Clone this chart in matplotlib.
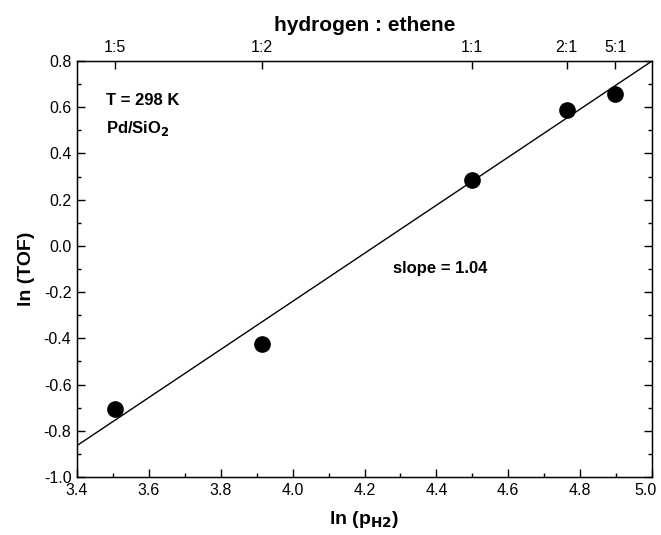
import matplotlib
matplotlib.use("Agg")
import matplotlib.pyplot as plt
import matplotlib.transforms as mtransforms
import numpy as np
from matplotlib.ticker import MultipleLocator, FormatStrFormatter

plt.rcParams['font.family'] = ['Liberation Sans', 'DejaVu Sans']

ln_pH2 = [3.505, 3.914, 4.50, 4.762, 4.897]
ln_TOF = [-0.705, -0.424, 0.285, 0.588, 0.657]
ratio_labels = ['1:5', '1:2', '1:1', '2:1', '5:1']
slope = 1.04
intercept = -4.4
fit_x = [3.4, 5.0]

fig = plt.figure(figsize=(6.61, 5.35), dpi=100)
ax = fig.add_axes([0.1165, 0.1084, 0.870, 0.7776])

fx = np.array(fit_x)
ax.plot(fx, slope * fx + intercept, color='black', lw=1.0)
ax.plot(ln_pH2, ln_TOF, 'o', color='black', markersize=11)

ax.set_xlim(3.4, 5.0)
ax.set_ylim(-1.0, 0.8)
ax.xaxis.set_major_locator(MultipleLocator(0.2))
ax.xaxis.set_minor_locator(MultipleLocator(0.1))
ax.yaxis.set_major_locator(MultipleLocator(0.2))
ax.yaxis.set_minor_locator(MultipleLocator(0.1))
ax.xaxis.set_major_formatter(FormatStrFormatter('%.1f'))
ax.yaxis.set_major_formatter(FormatStrFormatter('%.1f'))
ax.tick_params(which='both', direction='in', right=True, top=False, labelsize=11.5, width=1.0)
ax.tick_params(which='major', length=6, pad=4)
ax.tick_params(which='minor', length=3)
for s in ax.spines.values():
    s.set_linewidth(1.0)

ax.set_xlabel(r'ln (p$_{\mathbf{H2}}$)', fontsize=14, fontweight='bold', labelpad=8)
ax.set_ylabel('ln (TOF)', fontsize=14, fontweight='bold', labelpad=6)

ax2 = ax.twiny()
ax2.set_xlim(ax.get_xlim())
ax2.set_xticks(ln_pH2)
ax2.set_xticklabels(ratio_labels)
ax2.tick_params(direction='in', length=6, labelsize=11.5, width=1.0, pad=4)
ax2.set_xlabel('hydrogen : ethene', fontsize=15, fontweight='bold', labelpad=7)

ax.text(3.48, 0.63, 'T = 298 K', fontsize=12, fontweight='bold', va='center')
ax.text(3.48, 0.51, r'Pd/SiO$_{\mathbf{2}}$', fontsize=12, fontweight='bold', va='center')
ax.text(4.28, -0.10, 'slope = 1.04', fontsize=12, fontweight='bold', va='center')

fig.canvas.draw()
shift = mtransforms.ScaledTranslation(-7 / 100, 0, fig.dpi_scale_trans)
for lbl in ax.get_xticklabels():
    if lbl.get_text() == '5.0':
        lbl.set_transform(lbl.get_transform() + shift)

fig.savefig('out.png', dpi=100)
